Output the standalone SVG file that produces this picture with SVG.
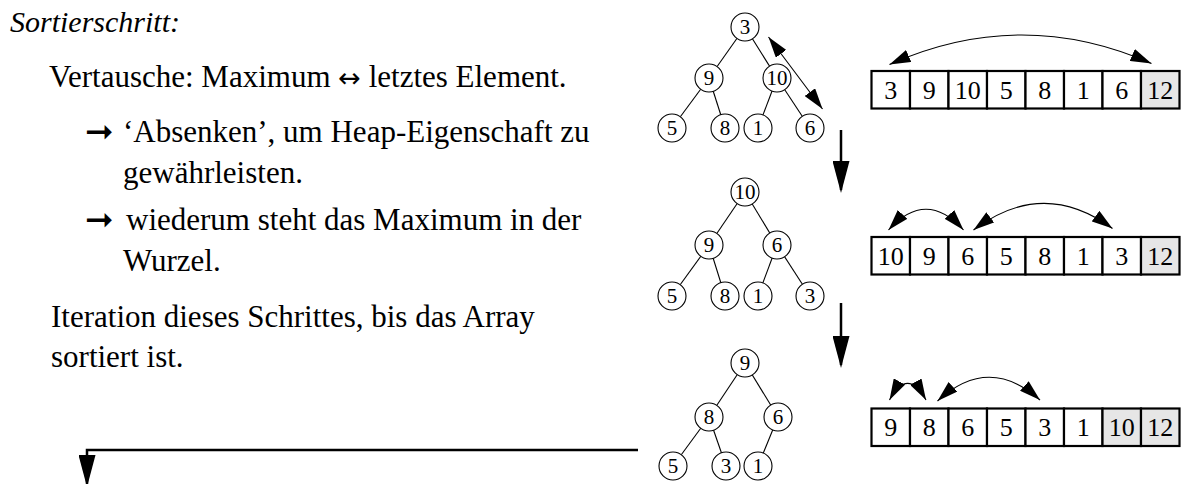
<svg xmlns="http://www.w3.org/2000/svg" width="1182" height="484" viewBox="0 0 1182 484">
  <style>
    .txt { font-family: "Liberation Serif", "Times New Roman", serif; font-size: 31px; fill: #000; }
    .it { font-style: italic; font-size: 30px; }
    .sym { font-family: "DejaVu Sans", sans-serif; font-size: 27px; }
    .bul { font-family: "DejaVu Sans", sans-serif; font-size: 34px; fill: #000; }
    .node circle { fill: #fff; stroke: #000; stroke-width: 1.1; }
    .node text { font-family: "Liberation Serif", "Times New Roman", serif; font-size: 21px; text-anchor: middle; fill: #000; }
    .cell rect { fill: #fff; stroke: #000; stroke-width: 2.2; }
    .cell rect.done { fill: #e6e6e6; }
    .cell text { font-family: "Liberation Serif", "Times New Roman", serif; font-size: 26px; text-anchor: middle; fill: #000; }
    .edge { stroke: #000; stroke-width: 1.1; fill: none; }
    .swap { stroke: #000; stroke-width: 1.1; fill: none; marker-start: url(#head); marker-end: url(#head); }
    .flow { stroke: #000; stroke-width: 2.5; fill: none; marker-end: url(#bighead); }
  </style>
  <defs>
    <marker id="head" markerWidth="21" markerHeight="13" refX="21" refY="6.5" orient="auto-start-reverse" markerUnits="userSpaceOnUse">
      <path d="M0,0 L21,6.5 L0,13 Z" fill="#000"/>
    </marker>
    <marker id="bighead" markerWidth="32" markerHeight="17" refX="29" refY="8.5" orient="auto" markerUnits="userSpaceOnUse">
      <path d="M0,0 L32,8.5 L0,17 Z" fill="#000"/>
    </marker>
  </defs>

  <!-- explanatory text -->
  <g id="caption">
    <text class="txt it" x="10" y="32">Sortierschritt:</text>
    <text class="txt" x="49" y="87">Vertausche: Maximum <tspan class="sym">↔</tspan> letztes Element.</text>
    <text class="bul" x="85" y="143">➞</text>
    <text class="txt" x="123" y="142">‘Absenken’, um Heap-Eigenschaft zu</text>
    <text class="txt" x="123" y="183">gewährleisten.</text>
    <text class="bul" x="85" y="231">➞</text>
    <text class="txt" x="126" y="230">wiederum steht das Maximum in der</text>
    <text class="txt" x="123" y="271">Wurzel.</text>
    <text class="txt" x="51" y="327">Iteration dieses Schrittes, bis das Array</text>
    <text class="txt" x="51" y="367">sortiert ist.</text>
  </g>

  <!-- connectors: tree edges, swap arcs, flow arrows -->
  <g id="connectors">
    <!-- heap 1 -->
    <line class="edge" x1="745" y1="27" x2="709" y2="78"/>
    <line class="edge" x1="745" y1="27" x2="777" y2="78"/>
    <line class="edge" x1="709" y1="78" x2="672" y2="128"/>
    <line class="edge" x1="709" y1="78" x2="725" y2="128"/>
    <line class="edge" x1="777" y1="78" x2="758" y2="128"/>
    <line class="edge" x1="777" y1="78" x2="810" y2="128"/>
    <!-- heap 2 -->
    <line class="edge" x1="745" y1="192" x2="709" y2="245"/>
    <line class="edge" x1="745" y1="192" x2="777" y2="245"/>
    <line class="edge" x1="709" y1="245" x2="672" y2="296"/>
    <line class="edge" x1="709" y1="245" x2="725" y2="296"/>
    <line class="edge" x1="777" y1="245" x2="758" y2="296"/>
    <line class="edge" x1="777" y1="245" x2="810" y2="296"/>
    <!-- heap 3 -->
    <line class="edge" x1="745" y1="363" x2="709" y2="417"/>
    <line class="edge" x1="745" y1="363" x2="778" y2="417"/>
    <line class="edge" x1="709" y1="417" x2="673" y2="466"/>
    <line class="edge" x1="709" y1="417" x2="726" y2="466"/>
    <line class="edge" x1="778" y1="417" x2="758" y2="466"/>

    <!-- swap root with last leaf -->
    <path class="swap" d="M768.5,37 L822.5,109"/>

    <!-- swaps in the arrays -->
    <path class="swap" d="M889.5,64.5 Q1020.5,6 1151.5,63.5"/>
    <path class="swap" d="M888.5,230 Q926,188.6 963.5,230"/>
    <path class="swap" d="M973.5,230 Q1043,177.5 1112.5,228.5"/>
    <path class="swap" d="M889.5,400 Q907.5,366.7 926,400"/>
    <path class="swap" d="M937.5,401 Q988.7,354 1040,400"/>

    <!-- step arrows -->
    <path class="flow" d="M841,130 L841,190"/>
    <path class="flow" d="M841,303 L841,365"/>
    <path class="flow" d="M638,450 L87,450 L87,484"/>
  </g>

  <!-- heap 1 -->
  <g id="h1n3" class="node"><circle cx="745" cy="27" r="14"/><text x="745" y="34">3</text></g>
  <g id="h1n9" class="node"><circle cx="709" cy="78" r="14"/><text x="709" y="85">9</text></g>
  <g id="h1n10" class="node"><circle cx="777" cy="78" r="14"/><text x="777" y="85">10</text></g>
  <g id="h1n5" class="node"><circle cx="672" cy="128" r="14"/><text x="672" y="135">5</text></g>
  <g id="h1n8" class="node"><circle cx="725" cy="128" r="14"/><text x="725" y="135">8</text></g>
  <g id="h1n1" class="node"><circle cx="758" cy="128" r="14"/><text x="758" y="135">1</text></g>
  <g id="h1n6" class="node"><circle cx="810" cy="128" r="14"/><text x="810" y="135">6</text></g>

  <!-- heap 2 -->
  <g id="h2n10" class="node"><circle cx="745" cy="192" r="14"/><text x="745" y="199">10</text></g>
  <g id="h2n9" class="node"><circle cx="709" cy="245" r="14"/><text x="709" y="252">9</text></g>
  <g id="h2n6" class="node"><circle cx="777" cy="245" r="14"/><text x="777" y="252">6</text></g>
  <g id="h2n5" class="node"><circle cx="672" cy="296" r="14"/><text x="672" y="303">5</text></g>
  <g id="h2n8" class="node"><circle cx="725" cy="296" r="14"/><text x="725" y="303">8</text></g>
  <g id="h2n1" class="node"><circle cx="758" cy="296" r="14"/><text x="758" y="303">1</text></g>
  <g id="h2n3" class="node"><circle cx="810" cy="296" r="14"/><text x="810" y="303">3</text></g>

  <!-- heap 3 -->
  <g id="h3n9" class="node"><circle cx="745" cy="363" r="14"/><text x="745" y="370">9</text></g>
  <g id="h3n8" class="node"><circle cx="709" cy="417" r="14"/><text x="709" y="424">8</text></g>
  <g id="h3n6" class="node"><circle cx="778" cy="417" r="14"/><text x="778" y="424">6</text></g>
  <g id="h3n5" class="node"><circle cx="673" cy="466" r="14"/><text x="673" y="473">5</text></g>
  <g id="h3n3" class="node"><circle cx="726" cy="466" r="14"/><text x="726" y="473">3</text></g>
  <g id="h3n1" class="node"><circle cx="758" cy="466" r="14"/><text x="758" y="473">1</text></g>

  <!-- array 1 -->
  <g id="array1" class="cell">
    <rect x="871.5" y="71" width="38.5" height="37.5"/>
    <rect x="910" y="71" width="38.5" height="37.5"/>
    <rect x="948.5" y="71" width="38.5" height="37.5"/>
    <rect x="987" y="71" width="38.5" height="37.5"/>
    <rect x="1025.5" y="71" width="38.5" height="37.5"/>
    <rect x="1064" y="71" width="38.5" height="37.5"/>
    <rect x="1102.5" y="71" width="38.5" height="37.5"/>
    <rect class="done" x="1141" y="71" width="38.5" height="37.5"/>
    <text x="890.75" y="98.5">3</text>
    <text x="929.25" y="98.5">9</text>
    <text x="967.75" y="98.5">10</text>
    <text x="1006.25" y="98.5">5</text>
    <text x="1044.75" y="98.5">8</text>
    <text x="1083.25" y="98.5">1</text>
    <text x="1121.75" y="98.5">6</text>
    <text x="1160.25" y="98.5">12</text>
  </g>

  <!-- array 2 -->
  <g id="array2" class="cell">
    <rect x="871.5" y="237" width="38.5" height="37.5"/>
    <rect x="910" y="237" width="38.5" height="37.5"/>
    <rect x="948.5" y="237" width="38.5" height="37.5"/>
    <rect x="987" y="237" width="38.5" height="37.5"/>
    <rect x="1025.5" y="237" width="38.5" height="37.5"/>
    <rect x="1064" y="237" width="38.5" height="37.5"/>
    <rect x="1102.5" y="237" width="38.5" height="37.5"/>
    <rect class="done" x="1141" y="237" width="38.5" height="37.5"/>
    <text x="890.75" y="264.5">10</text>
    <text x="929.25" y="264.5">9</text>
    <text x="967.75" y="264.5">6</text>
    <text x="1006.25" y="264.5">5</text>
    <text x="1044.75" y="264.5">8</text>
    <text x="1083.25" y="264.5">1</text>
    <text x="1121.75" y="264.5">3</text>
    <text x="1160.25" y="264.5">12</text>
  </g>

  <!-- array 3 -->
  <g id="array3" class="cell">
    <rect x="871.5" y="408.5" width="38.5" height="37.5"/>
    <rect x="910" y="408.5" width="38.5" height="37.5"/>
    <rect x="948.5" y="408.5" width="38.5" height="37.5"/>
    <rect x="987" y="408.5" width="38.5" height="37.5"/>
    <rect x="1025.5" y="408.5" width="38.5" height="37.5"/>
    <rect x="1064" y="408.5" width="38.5" height="37.5"/>
    <rect class="done" x="1102.5" y="408.5" width="38.5" height="37.5"/>
    <rect class="done" x="1141" y="408.5" width="38.5" height="37.5"/>
    <text x="890.75" y="436">9</text>
    <text x="929.25" y="436">8</text>
    <text x="967.75" y="436">6</text>
    <text x="1006.25" y="436">5</text>
    <text x="1044.75" y="436">3</text>
    <text x="1083.25" y="436">1</text>
    <text x="1121.75" y="436">10</text>
    <text x="1160.25" y="436">12</text>
  </g>
</svg>
